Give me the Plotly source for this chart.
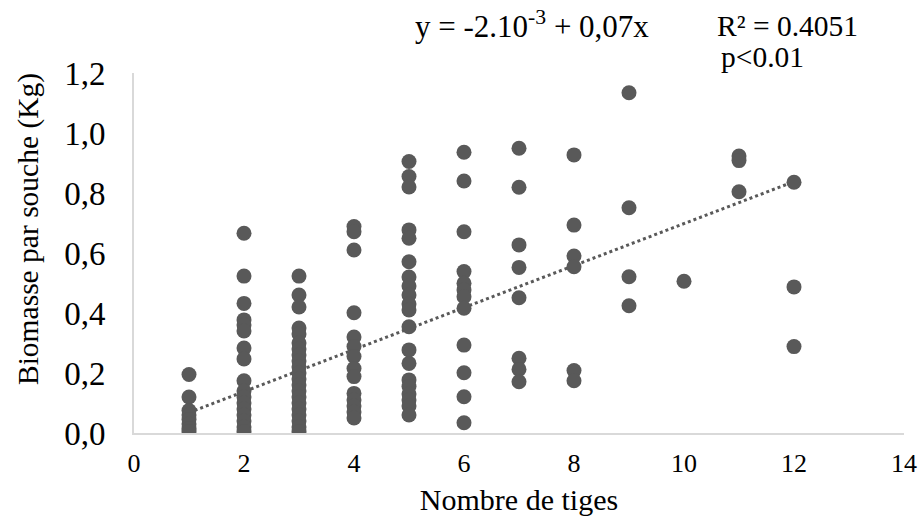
import plotly.graph_objects as go

# Biomass per stump (kg) grouped by number of stems
stems = [1, 2, 3, 4, 5, 6, 7, 8, 9, 10, 11, 12]
biomass_1 = [0.195, 0.12, 0.075, 0.06, 0.045, 0.03, 0.015, 0.005]
biomass_2 = [0.666, 0.523, 0.432, 0.377, 0.36, 0.34, 0.283, 0.247, 0.174, 0.14,
             0.12, 0.1, 0.08, 0.06, 0.04, 0.02, 0.005]
biomass_3 = [0.523, 0.46, 0.42, 0.35, 0.33, 0.30, 0.28, 0.26, 0.24, 0.22, 0.20,
             0.18, 0.16, 0.14, 0.12, 0.10, 0.08, 0.06, 0.04, 0.02, 0.005]
biomass_4 = [0.688, 0.671, 0.61, 0.401, 0.32, 0.288, 0.255, 0.215, 0.188, 0.132,
             0.11, 0.09, 0.07, 0.05]
biomass_5 = [0.905, 0.855, 0.82, 0.677, 0.649, 0.571, 0.52, 0.49, 0.46, 0.43,
             0.41, 0.354, 0.277, 0.232, 0.177, 0.155, 0.13, 0.11, 0.09, 0.06]
biomass_6 = [0.936, 0.84, 0.671, 0.538, 0.499, 0.477, 0.454, 0.416, 0.293, 0.201,
             0.121, 0.034]
biomass_7 = [0.949, 0.819, 0.627, 0.552, 0.451, 0.249, 0.212, 0.171]
biomass_8 = [0.927, 0.693, 0.59, 0.554, 0.208, 0.174]
biomass_9 = [1.134, 0.751, 0.521, 0.424]
biomass_10 = [0.506]
biomass_11 = [0.923, 0.908, 0.804]
biomass_12 = [0.836, 0.487, 0.288]

groups = [biomass_1, biomass_2, biomass_3, biomass_4, biomass_5, biomass_6,
          biomass_7, biomass_8, biomass_9, biomass_10, biomass_11, biomass_12]

# Regression shown on the chart
INTERCEPT = -0.002
SLOPE = 0.07
trend_x = [min(stems), max(stems)]
trend_y = [INTERCEPT + SLOPE * v for v in trend_x]

xs, ys = [], []
for s, g in zip(stems, groups):
    xs += [s] * len(g)
    ys += g

GREY = "#595959"
FONT = "Liberation Serif"

fig = go.Figure()
fig.add_trace(go.Scatter(x=trend_x, y=trend_y, mode="lines",
                         line=dict(color=GREY, width=3, dash="dot"),
                         hoverinfo="skip", showlegend=False))
fig.add_trace(go.Scatter(x=xs, y=ys, mode="markers",
                         marker=dict(color=GREY, size=15, line=dict(width=0)),
                         showlegend=False))

fig.update_layout(
    width=921, height=527,
    margin=dict(l=134, r=17, t=73, b=94),
    paper_bgcolor="white", plot_bgcolor="white",
    separators=",.",
    font=dict(family=FONT, color="black"),
    xaxis=dict(range=[0, 14], dtick=2, tick0=0, showgrid=False, zeroline=False,
               automargin=False,
               showline=True, linecolor="#d9d9d9", linewidth=2, ticks="",
               tickfont=dict(size=26, family=FONT, color="black"), ticklabelstandoff=6,
               title=dict(text="Nombre de tiges",
                          font=dict(size=30, family=FONT, color="black"),
                          standoff=12)),
    yaxis=dict(range=[0, 1.2], dtick=0.2, tick0=0, tickformat=".1f",
               showgrid=False, zeroline=False, automargin=False,
               showline=True, linecolor="#d9d9d9", linewidth=2, ticks="",
               tickfont=dict(size=33, family=FONT, color="black"), ticklabelstandoff=20),
)

# y-axis title placed as rotated text to match the reference position
fig.add_annotation(text="Biomasse par souche (Kg)", xref="paper", yref="paper",
                   x=(28 - 134) / 770, y=(433 - 229) / 360, xanchor="center",
                   yanchor="middle", textangle=-90, showarrow=False,
                   font=dict(size=29.5, family=FONT, color="black"))

fig.add_annotation(text="y = -2.10<sup>-3</sup> + 0,07x", xref="paper", yref="paper",
                   x=(413 - 134) / 770, y=1 + (73 - 24) / 360, xanchor="left",
                   yanchor="middle", showarrow=False,
                   font=dict(size=31, family=FONT, color="black"))
fig.add_annotation(text="R² = 0.4051", xref="paper", yref="paper",
                   x=(715 - 134) / 770, y=1 + (73 - 26) / 360, xanchor="left",
                   yanchor="middle", showarrow=False,
                   font=dict(size=29.5, family=FONT, color="black"))
fig.add_annotation(text="p<0.01", xref="paper", yref="paper",
                   x=(719 - 134) / 770, y=1 + (73 - 57) / 360, xanchor="left",
                   yanchor="middle", showarrow=False,
                   font=dict(size=29.5, family=FONT, color="black"))

fig.write_html("out.html")
